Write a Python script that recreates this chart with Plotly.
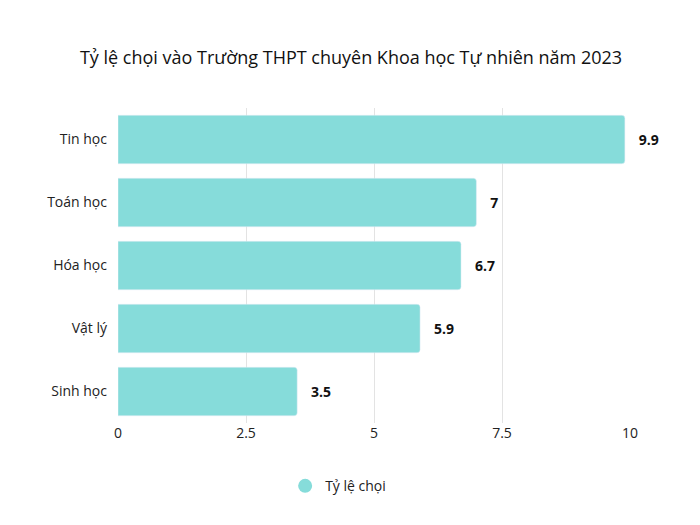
import plotly.graph_objects as go

categories = ["Tin học", "Toán học", "Hóa học", "Vật lý", "Sinh học"]
values = [9.9, 7, 6.7, 5.9, 3.5]
labels = ["9.9", "7", "6.7", "5.9", "3.5"]
tick_vals = [0, 2.5, 5, 7.5, 10]
tick_text = ["0", "2.5", "5", "7.5", "10"]
color = "#86DCDA"

fig = go.Figure()
fig.add_trace(go.Bar(
    y=categories, x=values, orientation="h", marker=dict(color=color, cornerradius=3),
    text=["<b>   %s</b>" % t for t in labels], textposition="outside",
    textfont=dict(size=14, color="#111"), cliponaxis=False, showlegend=False,
))
fig.add_trace(go.Scatter(
    x=[None], y=[None], mode="markers", name="Tỷ lệ chọi",
    marker=dict(color=color, size=14, symbol="circle"),
))
fig.update_layout(
    width=700, height=525,
    font=dict(family="Open Sans", size=14, color="#222"),
    title=dict(text="Tỷ lệ chọi vào Trường THPT chuyên Khoa học Tự nhiên năm 2023",
               x=0.49, xanchor="center", yref="container", y=0.905, yanchor="middle",
               automargin=False, font=dict(size=18, color="#111")),
    margin=dict(l=110, r=78, t=100, b=110, autoexpand=False),
    plot_bgcolor="white", paper_bgcolor="white",
    bargap=0.23,
    legend=dict(orientation="h", x=0.43, xanchor="center", y=-0.15, yanchor="top",
                font=dict(size=14)),
    xaxis=dict(range=[0, 10], tickvals=tick_vals, ticktext=tick_text, showgrid=True,
               gridcolor="#e3e3e3", zeroline=False, ticks="", showline=False,
               automargin=False),
    yaxis=dict(autorange="reversed", showgrid=False, ticks="", automargin=False,
               ticklabelstandoff=10),
)
fig.write_html("out.html")
